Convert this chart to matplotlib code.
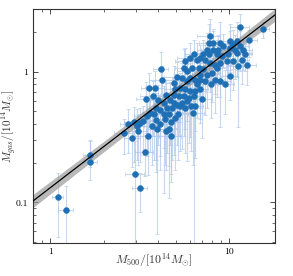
import numpy as np
import matplotlib

matplotlib.use("Agg")
import matplotlib.pyplot as plt
from matplotlib.ticker import NullFormatter

plt.rcParams["mathtext.fontset"] = "cm"
plt.rcParams["font.family"] = "serif"
plt.rcParams["font.serif"] = ["cmr10", "DejaVu Serif"]
plt.rcParams["axes.formatter.use_mathtext"] = True

# cluster masses, 10^14 Msun
m500 = [11.47, 15.47, 12.93, 7.74, 7.64, 8.14, 8.87, 10.09, 10.53, 11.08,
        11.47, 11.97, 10.75, 10.09, 9.26, 8.68, 8.14, 7.47, 7.16, 7.64,
        8.50, 9.06, 9.87, 10.99, 12.23, 11.23, 12.50, 10.53, 9.66, 8.87,
        8.32, 7.80, 7.32, 6.86, 6.57, 6.30, 6.03, 5.66, 5.54, 5.78,
        6.17, 6.72, 7.16, 7.47, 7.97, 8.32, 8.87, 10.09, 9.46, 7.87,
        7.32, 6.86, 6.57, 6.44, 6.03, 5.78, 5.42, 5.09, 4.87, 4.98,
        5.31, 5.66, 6.03, 6.44, 6.86, 6.30, 5.91, 5.54, 5.20, 4.87,
        4.67, 4.42, 4.20, 4.14, 3.85, 3.55, 3.42, 3.74, 3.99, 4.29,
        4.47, 4.77, 5.09, 5.42, 5.78, 6.11, 6.44, 7.07, 6.24, 5.66,
        5.31, 4.87, 4.57, 4.29, 4.07, 3.87, 3.77, 3.61, 3.46, 3.31,
        3.18, 3.04, 2.92, 2.72, 2.59, 2.87, 3.07, 3.50, 3.87, 3.95,
        4.42, 4.57, 4.69, 4.71, 4.11, 3.69, 4.34, 4.94, 5.13, 3.36,
        2.98, 3.16, 1.66, 1.66, 1.10, 1.22, 11.7, 8.50, 6.86]

mgas = [2.19, 2.12, 1.73, 1.86, 1.66, 1.64, 1.66, 1.70, 1.61, 1.70,
        1.56, 1.47, 1.47, 1.52, 1.56, 1.47, 1.47, 1.47, 1.35, 1.35,
        1.35, 1.31, 1.35, 1.39, 1.35, 1.10, 1.13, 1.20, 1.20, 1.16,
        1.13, 1.16, 1.23, 1.27, 1.23, 1.35, 1.27, 1.20, 1.07, 1.01,
        1.07, 1.07, 1.04, 0.949, 0.977, 0.869, 0.844, 0.932, 0.796, 0.796,
        0.844, 0.869, 0.796, 0.869, 0.895, 0.844, 0.895, 0.911, 0.819, 0.737,
        0.750, 0.729, 0.708, 0.708, 0.729, 0.648, 0.630, 0.648, 0.648, 0.667,
        0.611, 0.667, 0.854, 1.04, 0.746, 0.750, 0.618, 0.648, 0.611, 0.577,
        0.528, 0.528, 0.550, 0.570, 0.594, 0.544, 0.544, 0.622, 0.484, 0.528,
        0.544, 0.577, 0.470, 0.470, 0.504, 0.528, 0.470, 0.484, 0.456, 0.418,
        0.406, 0.383, 0.410, 0.396, 0.336, 0.312, 0.350, 0.321, 0.423, 0.361,
        0.354, 0.361, 0.319, 0.410, 0.394, 0.383, 0.430, 0.443, 0.470, 0.244,
        0.164, 0.129, 0.231, 0.204, 0.110, 0.088, 1.23, 1.07, 0.949]

# relative uncertainties
m500_rel_err = [0.12, 0.08, 0.10, 0.15, 0.12, 0.10, 0.15, 0.12, 0.10, 0.12,
                0.10, 0.12, 0.15, 0.10, 0.12, 0.10, 0.15, 0.12, 0.10, 0.12,
                0.10, 0.15, 0.12, 0.20, 0.10, 0.15, 0.12, 0.10, 0.12, 0.15,
                0.10, 0.12, 0.15, 0.10, 0.12, 0.10, 0.15, 0.12, 0.10, 0.12,
                0.12, 0.10, 0.15, 0.12, 0.10, 0.12, 0.15, 0.10, 0.12, 0.10,
                0.10, 0.12, 0.15, 0.10, 0.12, 0.10, 0.12, 0.15, 0.10, 0.12,
                0.12, 0.10, 0.12, 0.15, 0.10, 0.12, 0.10, 0.15, 0.12, 0.10,
                0.10, 0.12, 0.15, 0.10, 0.12, 0.10, 0.12, 0.15, 0.10, 0.12,
                0.12, 0.10, 0.12, 0.15, 0.10, 0.12, 0.10, 0.12, 0.15, 0.10,
                0.10, 0.12, 0.10, 0.15, 0.12, 0.10, 0.12, 0.10, 0.15, 0.12,
                0.12, 0.10, 0.12, 0.10, 0.12, 0.10, 0.12, 0.15, 0.10, 0.12,
                0.10, 0.12, 0.15, 0.10, 0.12, 0.10, 0.12, 0.10, 0.15, 0.12,
                0.12, 0.10, 0.09, 0.09, 0.07, 0.10, 0.10, 0.12, 0.10]

mgas_rel_err_hi = [0.25, 0.12, 0.20, 0.35, 0.40, 0.30, 0.45, 0.35, 0.30, 0.40,
                   0.30, 0.25, 0.30, 0.35, 0.25, 0.30, 0.40, 0.35, 0.30, 0.25,
                   0.30, 0.25, 0.20, 0.30, 0.20, 0.25, 0.20, 0.30, 0.25, 0.30,
                   0.30, 0.35, 0.30, 0.25, 0.35, 0.30, 0.30, 0.25, 0.40, 0.30,
                   0.25, 0.30, 0.30, 0.35, 0.30, 0.25, 0.30, 0.20, 0.30, 0.30,
                   0.30, 0.35, 0.30, 0.25, 0.30, 0.35, 0.30, 0.30, 0.35, 0.30,
                   0.30, 0.35, 0.30, 0.30, 0.25, 0.40, 0.30, 0.35, 0.30, 0.30,
                   0.35, 0.30, 0.30, 0.35, 0.35, 0.30, 0.35, 0.30, 0.30, 0.35,
                   0.30, 0.35, 0.30, 0.30, 0.35, 0.30, 0.30, 0.30, 0.40, 0.30,
                   0.35, 0.30, 0.30, 0.35, 0.30, 0.30, 0.35, 0.30, 0.35, 0.30,
                   0.30, 0.35, 0.30, 0.30, 0.30, 0.30, 0.35, 0.30, 0.30, 0.35,
                   0.30, 0.35, 0.30, 0.30, 0.30, 0.35, 0.30, 0.30, 0.30, 0.35,
                   0.80, 0.30, 0.30, 0.45, 0.53, 0.51, 0.30, 0.30, 0.30]

mgas_rel_err_lo = [0.30, 0.15, 0.25, 0.30, 0.40, 0.35, 0.45, 0.40, 0.35, 0.40,
                   0.35, 0.30, 0.40, 0.35, 0.30, 0.35, 0.45, 0.40, 0.35, 0.30,
                   0.35, 0.30, 0.30, 0.35, 0.25, 0.66, 0.30, 0.40, 0.35, 0.45,
                   0.40, 0.40, 0.35, 0.35, 0.40, 0.35, 0.40, 0.35, 0.45, 0.40,
                   0.35, 0.40, 0.40, 0.45, 0.40, 0.45, 0.55, 0.35, 0.40, 0.45,
                   0.45, 0.50, 0.45, 0.40, 0.45, 0.50, 0.45, 0.45, 0.50, 0.50,
                   0.45, 0.50, 0.55, 0.50, 0.45, 0.95, 0.55, 0.50, 0.50, 0.50,
                   0.55, 0.50, 0.50, 0.35, 0.45, 0.50, 0.45, 0.50, 0.55, 0.55,
                   0.55, 0.60, 0.50, 0.55, 0.65, 0.55, 0.60, 0.50, 0.60, 0.55,
                   0.55, 0.60, 0.60, 0.75, 0.55, 0.60, 0.55, 0.50, 0.50, 0.45,
                   0.50, 0.45, 0.50, 0.40, 0.30, 0.40, 0.45, 0.50, 0.60, 0.84,
                   0.50, 0.70, 0.55, 0.60, 0.55, 0.50, 0.55, 0.60, 0.55, 0.35,
                   0.80, 0.35, 0.20, 0.27, 0.51, 0.60, 0.35, 0.40, 0.45]

# best-fit power law: log10(Mgas) = norm + slope * log10(M500)
fit_norm = -0.887
fit_slope = 1.052
band_halfwidth = [0.05, 0.04, 0.036, 0.04, 0.05]   # dex, at the points below
band_logx = [-0.1, 0.3, 0.65, 1.0, 1.3]

x = np.array(m500)
y = np.array(mgas)
xerr = x * np.array(m500_rel_err)
yerr = np.vstack([y * np.array(mgas_rel_err_lo), y * np.array(mgas_rel_err_hi)])

fig = plt.figure(figsize=(2.93, 2.76), dpi=100)
ax = fig.add_axes([0.113, 0.12, 0.826, 0.847])

ax.errorbar(x, y, xerr=xerr, yerr=yerr, fmt="none", ecolor="#aec7e8",
            elinewidth=0.8, capsize=1.2, capthick=0.6, alpha=0.7, zorder=1)

lx = np.linspace(-0.15, 1.35, 100)
ly = fit_norm + fit_slope * lx
hw = np.interp(lx, band_logx, band_halfwidth)
ax.fill_between(10 ** lx, 10 ** (ly - hw), 10 ** (ly + hw), color="#9a9a9a",
                alpha=0.7, lw=0, zorder=2)

ax.plot(x, y, "o", ms=4.3, color="#1f6fb4", mec="#1f6fb4", mew=0.3, zorder=3)
ax.plot(10 ** lx, 10 ** ly, color="black", lw=0.9, zorder=4)

ax.set_xscale("log")
ax.set_yscale("log")
ax.set_xlim(0.8, 18)
ax.set_ylim(0.049, 3.0)

ax.set_xticks([1, 10], labels=["1", "10"])
ax.set_yticks([0.1, 1], labels=["0.1", "1"])
ax.xaxis.set_minor_formatter(NullFormatter())
ax.yaxis.set_minor_formatter(NullFormatter())
ax.tick_params(which="both", direction="in", top=True, right=True, labelsize=7,
               color="#333333")
ax.tick_params(which="major", length=3.5, width=0.6)
ax.tick_params(which="minor", length=2, width=0.5)
for s in ax.spines.values():
    s.set_linewidth(0.8)
    s.set_color("#333333")

ax.set_xlabel(r"$M_{500}/[10^{14}M_{\odot}]$", fontsize=8.5, color="#333333")
ax.set_ylabel(r"$M_{gas}/[10^{14}M_{\odot}]$", fontsize=8, color="#333333")
ax.xaxis.set_label_coords(0.5, -0.035)
ax.yaxis.set_label_coords(-0.058, 0.5)

fig.savefig("out.png", dpi=100)
